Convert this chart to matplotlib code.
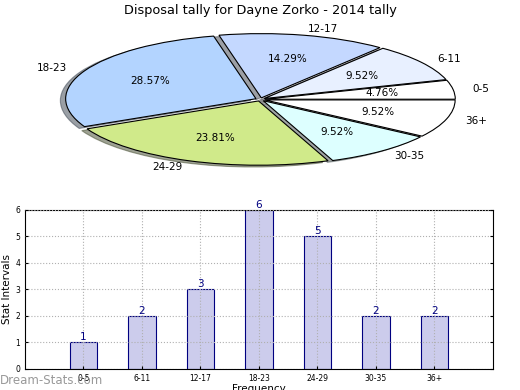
import matplotlib
matplotlib.use('Agg')
import matplotlib.pyplot as plt

# Data
categories = ['0-5', '6-11', '12-17', '18-23', '24-29', '30-35', '36+']
counts = [1, 2, 3, 6, 5, 2, 2]
slice_colors = ['#ffffff', '#e8f0ff', '#c4d8ff', '#b3d4ff', '#d0ea8a', '#ddffff', '#ffffff']

fig = plt.figure(figsize=(5.2, 3.9), dpi=100)
fig.text(0.5, 0.973, 'Disposal tally for Dayne Zorko - 2014 tally',
         ha='center', va='center', fontsize=9.3)

# Pie (squashed into an ellipse)
ax_pie = fig.add_axes([0.043, 0.539, 0.915, 0.412])
ax_pie.pie(counts, labels=categories, colors=slice_colors, startangle=0,
           explode=[0.025] * len(counts), shadow=True, autopct='%.2f%%',
           pctdistance=0.62, labeldistance=1.1,
           wedgeprops={'edgecolor': 'black', 'linewidth': 0.8},
           textprops={'fontsize': 7.5})
ax_pie.set_aspect('auto')
ax_pie.set_xlim(-1.25, 1.25)
ax_pie.set_ylim(-1.25, 1.25)

# Bar chart
ax = fig.add_axes([0.048, 0.054, 0.9, 0.408])
x = list(range(len(categories)))
ax.bar(x, counts, width=0.47, color='#ccccec', edgecolor='#000080', linewidth=0.8)
for xi, c in zip(x, counts):
    ax.text(xi, c, str(c), ha='center', va='bottom', color='#000080', fontsize=7.5)
ax.set_xlim(-1, 7)
ax.set_ylim(0, 6)
ax.set_xticks(x)
ax.set_xticklabels(categories)
ax.tick_params(labelsize=5.5, length=2, direction='in', right=True)
ax.grid(True, linestyle=':', color='#b0b0b0', linewidth=0.8)
ax.set_axisbelow(False)
ax.set_ylabel('Stat Intervals', fontsize=7.5, labelpad=2)
ax.set_xlabel('Frequency', fontsize=7.5, labelpad=1)

fig.text(0.0, 0.025, 'Dream-Stats.com', color='#999999', fontsize=8.5,
         va='center')

fig.savefig('out.png', dpi=100)
